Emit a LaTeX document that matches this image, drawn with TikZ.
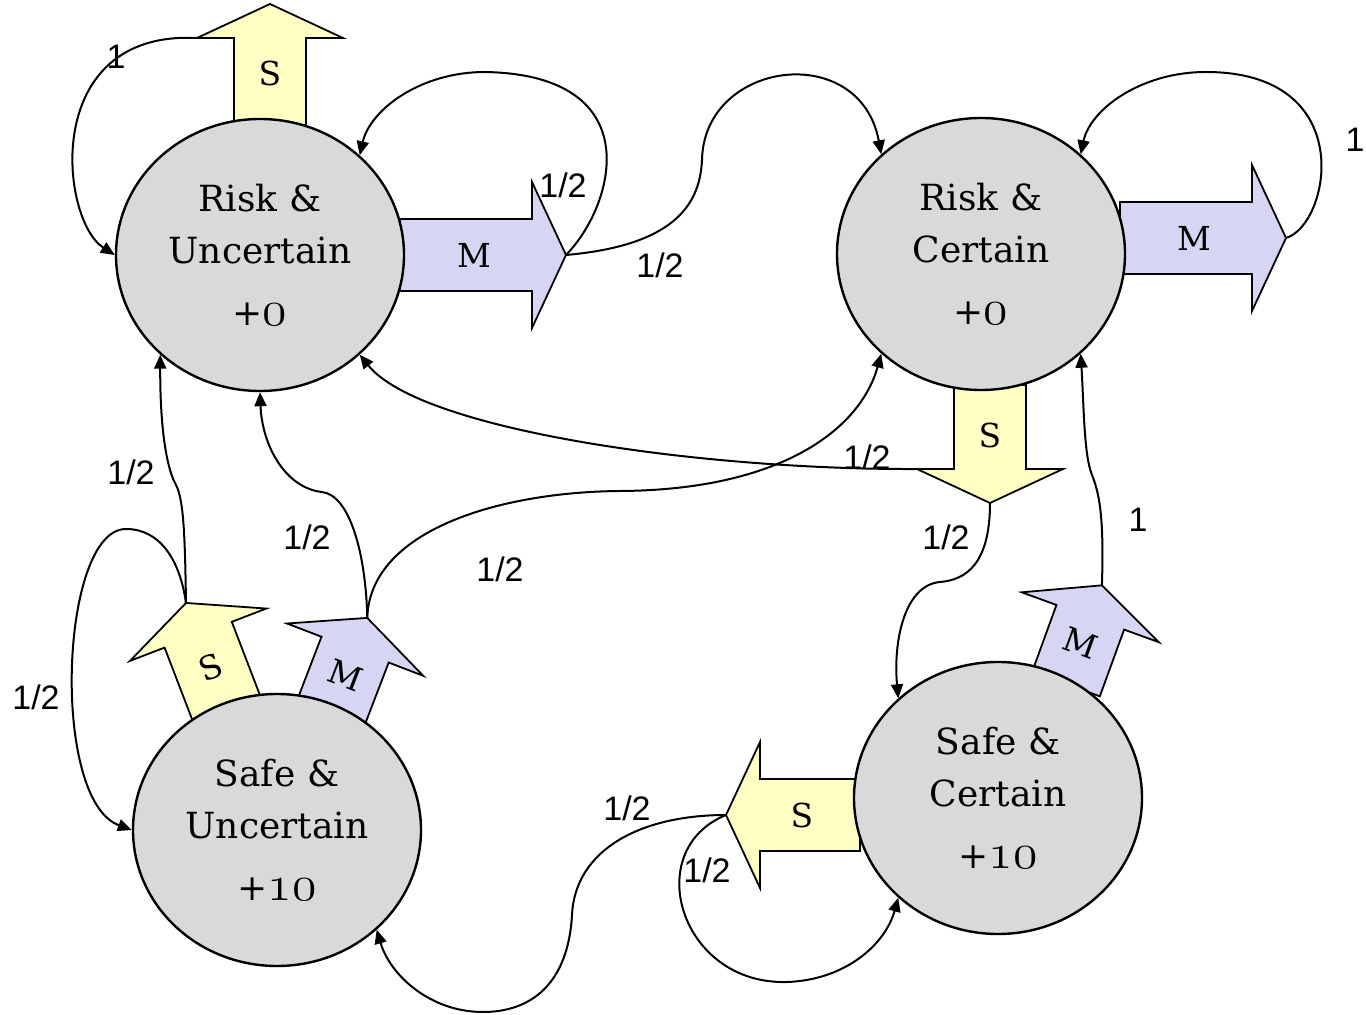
\documentclass[tikz,border=0pt]{standalone}
\usepackage{fontspec}
\usepackage{tikz}
\usetikzlibrary{arrows.meta,shapes.geometric}
\setmainfont{DejaVu Serif}
\newfontfamily\labfont{Liberation Sans}
\definecolor{stategrey}{HTML}{D9D9D9}
\definecolor{safeyel}{HTML}{FFFFC4}
\definecolor{moveblue}{HTML}{D6D6F4}
\newcommand\osnum[1]{{\fontsize{26}{26}\usefont{OML}{cmm}{m}{it}#1}}
% block arrow: name, fill, tail, angle, shaft length, label angle, label
\newcommand\blockarr[7]{%
  \begin{scope}[shift={#3},rotate=#4]
    \draw[blk,fill=#2] (0,-36) -- (#5,-36) -- (#5,-73) coordinate (#1-a)
      -- ({#5+34},0) coordinate (#1) -- (#5,73) coordinate (#1-b) -- (#5,36) -- (0,36) -- cycle;
    \node[actlab,rotate=#6] (#1-t) at ({#5/2+8},0) {#7};
  \end{scope}}

\begin{document}
\begin{tikzpicture}[x=0.5pt,y=-0.5pt,
  state/.style={ellipse,draw,line width=1.2pt,fill=stategrey,minimum width=144pt,minimum height=136pt,inner sep=0pt,align=center,font=\fontsize{18}{26}\selectfont},
  blk/.style={draw,line width=0.9pt,line join=miter},
  actlab/.style={inner sep=0pt,font=\fontsize{16.5}{20}\selectfont},
  con/.style={-{Triangle[length=7pt,width=6pt]},line width=1pt},
  plab/.style={inner sep=0pt,font=\labfont\fontsize{17}{20}\selectfont}]
  \useasboundingbox (0,0) rectangle (1366,1015);
  % actions
  \blockarr{ruS}{safeyel}{(270,125)}{90}{87}{0}{S}
  \blockarr{ruM}{moveblue}{(400,255)}{0}{132}{0}{M}
  \blockarr{rcM}{moveblue}{(1120,238)}{0}{132}{0}{M}
  \blockarr{rcS}{safeyel}{(990,385)}{-90}{84}{0}{S}
  \blockarr{scS}{safeyel}{(860,815)}{180}{100}{0}{S}
  \blockarr{scM}{moveblue}{(1066,684)}{70}{71}{-20}{M}
  \blockarr{suS}{safeyel}{(229,715)}{111}{86}{21}{S}
  \blockarr{suM}{moveblue}{(330,715)}{69}{70}{-21}{M}
  % states
  \node[state] (ru) at (260,255) {Risk \&\\Uncertain\\[5pt]+\osnum{0}};
  \node[state] (rc) at (981,254) {Risk \&\\Certain\\[5pt]+\osnum{0}};
  \node[state] (su) at (277,830) {Safe \&\\Uncertain\\[5pt]+\osnum{10}};
  \node[state] (sc) at (998,798) {Safe \&\\Certain\\[5pt]+\osnum{10}};
  % transitions
  \draw[con] (ruS-a) .. controls (40,30) and (60,220) .. (ru.west);
  \draw[con] (ruM) .. controls (615,205) and (650,75) .. (485,72) .. controls (420,72) and (370,110) .. (ru.45);
  \draw[con] (ruM) .. controls (680,245) and (700,200) .. (702,160) .. controls (704,60) and (860,40) .. (rc.135);
  \draw[con] (rcM) .. controls (1330,225) and (1360,72) .. (1206,72) .. controls (1140,72) and (1090,110) .. (rc.45);
  \draw[con] (rcS-b) .. controls (700,470) and (420,430) .. (ru.-45);
  \draw[con] (rcS) .. controls (990,565) and (965,580) .. (940,582) .. controls (905,585) and (893,640) .. (sc.135);
  \draw[con] (scM) .. controls (1104,520) and (1100,495) .. (1092,475) .. controls (1084,455) and (1084,410) .. (rc.-45);
  \draw[con] (suS) .. controls (185,540) and (184,500) .. (176,485) .. controls (165,465) and (160,420) .. (ru.-135);
  \draw[con] (suS) .. controls (180,560) and (160,529) .. (126,529) .. controls (60,529) and (50,800) .. (su.west);
  \draw[con] (suM) .. controls (366,555) and (350,495) .. (322,492) .. controls (285,488) and (262,445) .. (ru.south);
  \draw[con] (suM) .. controls (370,530) and (500,492) .. (620,491) .. controls (780,490) and (860,430) .. (rc.-135);
  \draw[con] (scS) .. controls (640,815) and (575,850) .. (572,915) .. controls (568,985) and (530,1012) .. (483,1012) .. controls (430,1012) and (390,975) .. (su.-45);
  \draw[con] (scS) .. controls (640,850) and (680,985) .. (787,982) .. controls (845,980) and (885,945) .. (sc.-135);
  % probabilities
  \node[plab] (p1) at (116,57) {1};
  \node[plab] (p2) at (563,185) {1/2};
  \node[plab] (p3) at (660,265) {1/2};
  \node[plab] (p4) at (1355,140) {1};
  \node[plab] (p5) at (867,457) {1/2};
  \node[plab] (p6) at (946,537) {1/2};
  \node[plab] (p7) at (1138,520) {1};
  \node[plab] (p8) at (131,472) {1/2};
  \node[plab] (p9) at (36,697) {1/2};
  \node[plab] (p10) at (307,537) {1/2};
  \node[plab] (p11) at (500,569) {1/2};
  \node[plab] (p12) at (627,808) {1/2};
  \node[plab] (p13) at (707,870) {1/2};
\end{tikzpicture}
\end{document}
